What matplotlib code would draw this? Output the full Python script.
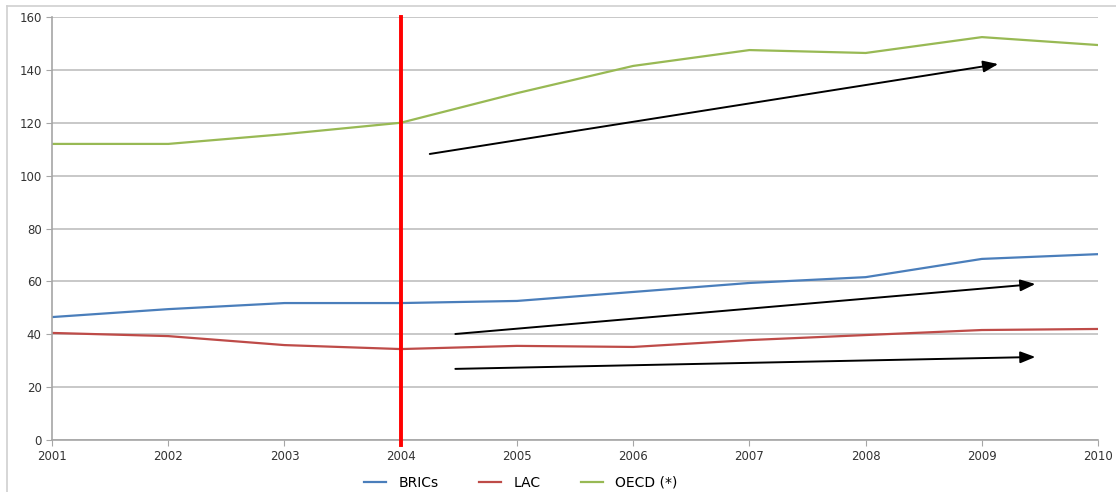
import matplotlib
matplotlib.use("Agg")
import matplotlib.pyplot as plt
from matplotlib.lines import Line2D

years = [2001, 2002, 2003, 2004, 2005, 2006, 2007, 2008, 2009, 2010]
brics = [46.5, 49.5, 51.8, 51.8, 52.6, 56.0, 59.4, 61.6, 68.5, 70.3]
lac = [40.5, 39.3, 35.9, 34.4, 35.6, 35.2, 37.8, 39.7, 41.6, 42.0]
oecd = [112.0, 112.0, 115.7, 120.0, 131.2, 141.5, 147.5, 146.4, 152.4, 149.4]

# trend arrows: (start year, start value, end year, end value)
trend_oecd = (2004.25, 108.2, 2009.14, 142.2)
trend_brics = (2004.47, 40.1, 2009.46, 59.0)
trend_lac = (2004.47, 26.9, 2009.46, 31.4)

fig = plt.figure(figsize=(11.16, 4.92), dpi=100)
ax = fig.add_axes([0.0466, 0.1057, 0.9374, 0.8597])

ax.plot(years, brics, color="#4a7ebb", lw=1.6, label="BRICs")
ax.plot(years, lac, color="#be4b48", lw=1.6, label="LAC")
ax.plot(years, oecd, color="#98b954", lw=1.6, label="OECD (*)")

for x0, y0, x1, y1 in (trend_oecd, trend_brics, trend_lac):
    ax.annotate("", xy=(x1, y1), xytext=(x0, y0),
                arrowprops=dict(arrowstyle="-|>,head_length=0.9,head_width=0.35",
                                color="black", lw=1.4, shrinkA=0, shrinkB=0))

# vertical marker at 2004
ax.plot([2004, 2004], [-2, 160], color="#ff0000", lw=2.8, clip_on=False, zorder=5)

ax.set_xlim(2001, 2010)
ax.set_ylim(0, 160)
ax.set_xticks(years)
ax.set_yticks(range(0, 161, 20))
ax.yaxis.grid(True, color="#bfbfbf", lw=1.2)
ax.set_axisbelow(True)
for s in ("top", "right"):
    ax.spines[s].set_visible(False)
for s in ("left", "bottom"):
    ax.spines[s].set_color("#a6a6a6")
    ax.spines[s].set_linewidth(1.2)
ax.tick_params(colors="#a6a6a6", length=4, labelsize=8.5, labelcolor="#333333")
ax.tick_params(axis="x", pad=3)

ax.legend(loc="upper center", bbox_to_anchor=(0.448, -0.055), ncol=3, frameon=False,
          fontsize=10, handlelength=1.6, handletextpad=0.9, columnspacing=2.9)

# outer frame: only top and left edges visible in the source image
fig.lines.append(Line2D([0.006, 1.0], [0.988, 0.988], transform=fig.transFigure,
                        color="#d0d0d0", lw=1.2))
fig.lines.append(Line2D([0.006, 0.006], [0.0, 0.988], transform=fig.transFigure,
                        color="#d0d0d0", lw=1.2))

fig.savefig("out.png", dpi=100)
